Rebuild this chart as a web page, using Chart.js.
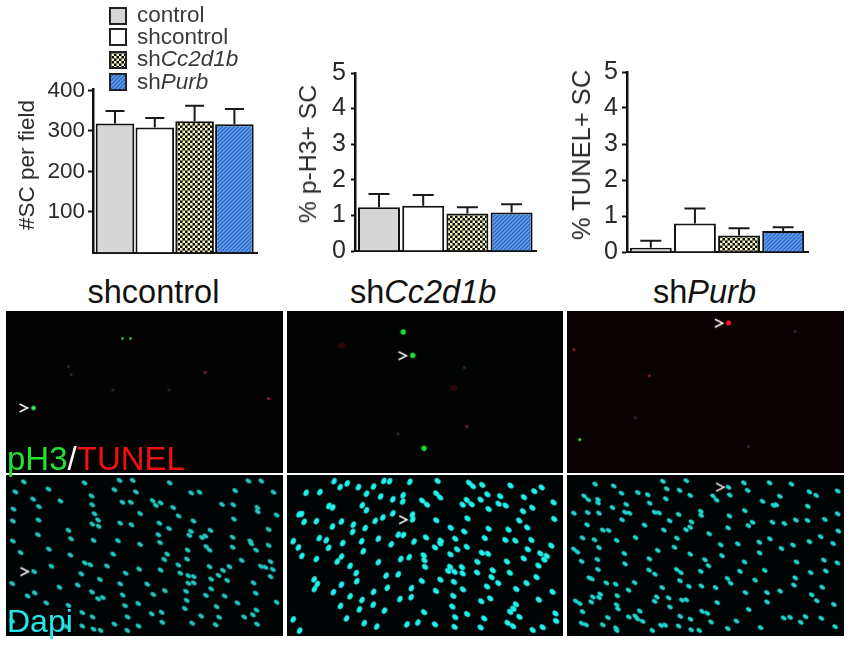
<!DOCTYPE html>
<html>
<head>
<meta charset="utf-8">
<title>Schwann cell counts</title>
<script src="https://cdn.jsdelivr.net/npm/chart.js@4"></script>
<style>
    html, body { margin: 0; padding: 0; background: #fff; }
    body { position: relative; width: 850px; height: 646px; overflow: hidden; font-family: "Liberation Sans", Arial, sans-serif; }
    canvas { position: absolute; display: block; }
    .txt { position: absolute; white-space: nowrap; line-height: 0; z-index: 5; }
</style>
</head>
<body>
<script>
// bar values
const groups = ['control', 'shcontrol', 'shCc2d1b', 'shPurb'];
const scPerField = [318, 308, 324, 316];
const scPerFieldTop = [349, 332, 362, 354];
const ph3Pct = [1.23, 1.27, 1.05, 1.08];
const ph3PctTop = [1.60, 1.57, 1.23, 1.31];
const tunelPct = [0.12, 0.79, 0.46, 0.58];
const tunelPctTop = [0.31, 1.21, 0.66, 0.69];
const scTicks = [100, 200, 300, 400];
const pctTicks = [0, 1, 2, 3, 4, 5];

// spots in the micrographs, in field coordinates
const greenCtrl = [[88, 312]];
const greenCtrlSmall = [[365, 90], [390, 90]];
const redCtrl = [[820, 282]];
const dimCtrl = [[622, 198]];
const greyCtrl = [[197, 180], [335, 255], [205, 205], [510, 255]];
const arrowCtrl = [[57, 312]];

const greenCc2 = [[352, 69], [382, 144], [417, 441]];
const redCc2 = [[550, 371]];
const darkRedCc2 = [[160, 112], [510, 248]];
const greyCc2 = [[336, 395], [542, 183]];
const arrowCc2 = [[350, 145]];

const redPurb = [[493, 40]];
const dimPurb = [[12, 125], [247, 209]];
const greenPurb = [[30, 413]];
const greyPurb = [[700, 67], [203, 343], [555, 435]];
const arrowPurb = [[463, 41]];

const dapiCtrl = [[58, 15], [135, 38], [247, 18], [340, 40], [356, 10], [397, 10], [407, 47], [512, 18], [579, 50], [605, 48], [716, 43], [835, 48], [757, 12], [797, 12],
    [32, 47], [87, 70], [172, 76], [269, 60], [365, 80], [391, 80], [459, 75], [484, 82], [469, 90], [523, 97], [675, 87], [710, 88], [785, 97], [786, 110],
    [26, 102], [105, 94], [271, 88], [278, 117], [420, 116], [540, 124], [712, 134], [845, 121],
    [104, 137], [24, 140], [289, 137], [271, 150], [291, 157], [358, 147], [393, 152], [480, 147], [586, 140], [510, 164], [820, 167],
    [197, 170], [102, 184], [578, 173], [573, 186], [477, 184], [612, 193], [623, 188], [639, 170], [708, 192], [763, 204], [766, 213],
    [24, 204], [205, 197], [275, 202], [351, 203], [482, 209], [420, 215], [820, 218], [708, 224], [626, 222], [636, 233], [781, 233], [568, 233],
    [136, 230], [48, 241], [203, 249], [336, 246], [504, 246], [566, 262], [495, 263], [736, 266], [826, 270],
    [248, 274], [265, 280], [144, 285], [317, 284], [417, 294], [539, 281], [484, 297], [636, 286], [698, 286], [796, 285], [810, 288], [833, 295], [678, 298],
    [90, 302], [237, 309], [375, 307], [545, 307], [664, 314], [570, 315], [587, 318], [826, 318], [295, 327], [641, 326], [691, 330],
    [22, 340], [570, 339], [587, 338], [226, 345], [358, 341], [442, 342], [773, 338], [169, 352], [641, 357],
    [92, 370], [70, 380], [270, 367], [366, 377], [461, 375], [497, 363], [563, 365], [625, 378], [683, 380], [780, 371],
    [289, 389], [304, 385], [128, 402], [565, 394], [414, 404], [373, 411], [723, 402], [845, 400], [658, 414], [559, 420], [197, 410], [782, 425],
    [240, 433], [456, 437], [487, 432], [610, 444], [666, 448], [744, 447], [771, 440], [272, 447], [381, 447],
    [489, 464], [582, 467], [340, 470], [240, 476], [415, 476], [784, 470], [275, 486], [297, 490], [380, 490], [655, 472], [190, 478], [22, 460]];

const dapiCc2 = [[137, 13], [178, 20], [292, 12], [310, 13], [373, 15], [459, 12], [557, 18], [569, 29], [598, 25], [686, 27], [783, 33], [760, 45],
    [50, 50], [93, 48], [156, 32], [213, 32], [260, 30], [238, 53], [282, 62], [320, 71], [352, 58], [351, 78], [411, 75], [426, 88], [455, 52], [467, 65],
    [550, 73], [565, 87], [537, 88], [593, 72], [614, 55], [654, 61], [649, 85], [671, 91], [728, 64], [725, 109], [754, 98], [820, 81],
    [121, 92], [133, 97], [225, 90], [238, 106], [618, 102],
    [28, 119], [36, 118], [320, 116], [289, 129], [265, 140], [381, 120], [382, 135], [455, 138], [552, 132], [713, 139], [822, 134],
    [44, 143], [82, 141], [132, 158], [160, 142], [197, 152], [234, 163], [195, 175], [337, 184], [353, 185], [500, 162], [542, 174], [618, 165], [680, 168], [738, 161],
    [91, 195], [113, 202], [164, 211], [223, 205], [275, 197], [315, 215], [386, 206], [423, 193], [469, 203], [467, 212], [514, 197], [606, 195], [670, 201], [701, 203], [751, 201],
    [10, 205], [26, 225], [120, 226], [451, 225], [520, 231], [550, 223], [740, 231], [813, 219],
    [37, 252], [82, 262], [228, 237], [160, 254], [147, 270], [345, 262], [371, 256], [416, 250], [418, 266], [499, 247], [597, 242], [616, 245], [779, 244], [799, 252], [727, 260], [791, 264],
    [275, 272], [187, 284], [420, 287], [583, 271], [675, 270], [773, 283], [498, 287], [535, 288], [492, 300], [512, 303], [537, 308], [582, 305], [631, 298], [684, 306],
    [206, 307], [299, 315], [337, 311], [627, 320], [767, 320], [75, 327], [85, 342], [208, 333], [468, 328], [410, 332], [510, 335], [736, 339], [648, 339],
    [160, 344], [76, 358], [303, 354], [378, 355], [538, 359], [613, 350], [704, 358], [454, 364], [135, 368], [260, 367], [817, 367],
    [187, 381], [508, 380], [342, 390], [377, 384], [224, 393], [623, 388], [595, 397], [774, 392],
    [259, 408], [157, 412], [505, 414], [703, 407], [695, 421], [216, 423], [294, 427], [685, 431], [417, 432], [551, 438], [714, 447], [826, 436],
    [514, 448], [10, 455], [176, 452], [604, 452], [828, 460], [231, 467], [364, 471], [398, 465], [451, 471], [677, 466], [694, 477], [512, 479], [270, 478], [593, 481], [786, 480], [755, 489], [30, 491]];

const dapiPurb = [[78, 22], [136, 28], [289, 13], [362, 11], [541, 18], [621, 18], [689, 22], [493, 32], [301, 37], [341, 42], [553, 42], [745, 47], [833, 44],
    [44, 60], [57, 72], [87, 71], [87, 82], [160, 51], [211, 49], [242, 56], [298, 69], [374, 58], [445, 60], [456, 73], [497, 57], [653, 61], [766, 58],
    [175, 87], [132, 97], [248, 83], [599, 77], [633, 90], [642, 88], [740, 93],
    [12, 115], [55, 113], [90, 115], [171, 112], [185, 115], [263, 112], [277, 114], [338, 119], [407, 109], [408, 122], [496, 124], [544, 107], [833, 117],
    [162, 136], [310, 139], [378, 143], [568, 144], [630, 144], [667, 148], [703, 137], [739, 138], [793, 135],
    [53, 152], [232, 153], [374, 160], [361, 168], [492, 162], [555, 155],
    [102, 169], [120, 170], [292, 169], [433, 181], [780, 190], [835, 172],
    [39, 194], [76, 200], [145, 202], [204, 193], [333, 195], [622, 197], [589, 208], [745, 206], [819, 212],
    [90, 225], [273, 234], [325, 224], [469, 216], [522, 213], [694, 217], [658, 228],
    [12, 230], [23, 239], [169, 244], [374, 246], [473, 251], [590, 242],
    [85, 263], [36, 269], [247, 261], [420, 264], [171, 277], [431, 283], [543, 271], [705, 271], [790, 265], [832, 274],
    [87, 295], [246, 297], [332, 295], [345, 305], [264, 310], [407, 301], [529, 301], [606, 298], [749, 305], [796, 300],
    [60, 322], [68, 325], [342, 331], [490, 324], [576, 329], [701, 322],
    [113, 338], [142, 342], [201, 337], [287, 353], [370, 349], [409, 348], [453, 353], [500, 339], [697, 345], [785, 352],
    [182, 361], [94, 374], [71, 383], [90, 385], [147, 379], [270, 383], [263, 397], [307, 386], [546, 369], [613, 369], [654, 364], [752, 376],
    [18, 396], [30, 404], [66, 399], [348, 393], [362, 392], [458, 401], [613, 399], [768, 395], [821, 407],
    [145, 408], [149, 421], [311, 415], [39, 430], [217, 428], [411, 429], [427, 435], [556, 423],
    [118, 449], [183, 447], [203, 444], [210, 453], [226, 461], [343, 445], [375, 454], [665, 450], [685, 448], [733, 446], [782, 451],
    [36, 467], [50, 472], [102, 472], [283, 474], [296, 473], [338, 476], [439, 463], [518, 460], [718, 464], [825, 478], [143, 482], [145, 490], [256, 490], [377, 488], [402, 490], [491, 484], [593, 481]];
const arrowDapiCtrl = [[60, 302]];
const arrowDapiCc2 = [[352, 136]];
const arrowDapiPurb = [[467, 32]];

Chart.defaults.animation = false;
Chart.defaults.responsive = false;
Chart.defaults.devicePixelRatio = 1;
Chart.defaults.font.family = '"Liberation Sans", Arial, sans-serif';
Chart.defaults.events = [];

function makeSprite(w, h) {
    const c = document.createElement('canvas');
    c.width = w;
    c.height = h;
    return c;
}

function checkerPattern() {
    const c = makeSprite(5, 5);
    const g = c.getContext('2d');
    g.fillStyle = '#0c0c06';
    g.fillRect(0, 0, 5, 5);
    g.fillStyle = '#f6f4c0';
    g.fillRect(0, 0, 2.5, 2.5);
    g.fillRect(2.5, 2.5, 2.5, 2.5);
    return g.createPattern(c, 'repeat');
}

function stripePattern() {
    const c = makeSprite(4, 4);
    const g = c.getContext('2d');
    g.fillStyle = '#2f6fd0';
    g.fillRect(0, 0, 4, 4);
    g.strokeStyle = '#74a6ec';
    g.lineWidth = 1.2;
    g.beginPath();
    g.moveTo(-1, 1); g.lineTo(1, -1);
    g.moveTo(-1, 5); g.lineTo(5, -1);
    g.moveTo(3, 5); g.lineTo(5, 3);
    g.stroke();
    return g.createPattern(c, 'repeat');
}

const fills = ['#d6d6d6', '#ffffff', checkerPattern(), stripePattern()];

// one blurry spot, used as the point style in the micrographs
function spot(color, rx, ry) {
    const c = makeSprite(Math.ceil(rx * 2 + 6), Math.ceil(ry * 2 + 6));
    const g = c.getContext('2d');
    g.filter = 'blur(0.6px)';
    g.fillStyle = color;
    g.beginPath();
    g.ellipse(c.width / 2, c.height / 2, rx, ry, 0, 0, Math.PI * 2);
    g.fill();
    return c;
}

function chevron(color) {
    const c = makeSprite(12, 12);
    const g = c.getContext('2d');
    g.strokeStyle = color;
    g.lineWidth = 1.4;
    g.beginPath();
    g.moveTo(2, 2); g.lineTo(10, 6); g.lineTo(2, 10);
    g.stroke();
    return c;
}

function addCanvas(left, top, width, height, bg) {
    const c = document.createElement('canvas');
    c.width = width;
    c.height = height;
    c.style.left = left + 'px';
    c.style.top = top + 'px';
    if (bg) c.style.background = bg;
    document.body.appendChild(c);
    return c;
}

function addText(html, x, baseline, size, color) {
    const d = document.createElement('div');
    d.className = 'txt';
    d.innerHTML = html;
    d.style.left = x + 'px';
    d.style.top = (baseline - 0.3465 * size) + 'px';
    d.style.fontSize = size + 'px';
    d.style.color = color;
    document.body.appendChild(d);
}

function addSideLabel(text, cx, cy, size) {
    const d = document.createElement('div');
    d.className = 'txt';
    d.textContent = text;
    d.style.left = cx + 'px';
    d.style.top = cy + 'px';
    d.style.fontSize = size + 'px';
    d.style.color = '#2a2a2a';
    d.style.transform = 'translate(-50%, 0) rotate(-90deg)';
    document.body.appendChild(d);
}

// error bars are only drawn upward, from the bar top to the upper value
const errorBars = {
    id: 'errorBars',
    afterDatasetsDraw(chart, args, opts) {
        const g = chart.ctx;
        const xs = chart.scales.x;
        const ys = chart.scales.y;
        g.save();
        g.strokeStyle = '#1a1a1a';
        g.lineWidth = 2;
        opts.tops.forEach((top, i) => {
            const x = xs.getPixelForValue(i + 1);
            const y0 = ys.getPixelForValue(opts.values[i]);
            const y1 = ys.getPixelForValue(top);
            g.beginPath();
            g.moveTo(x, y0);
            g.lineTo(x, y1);
            g.moveTo(x - opts.cap, y1);
            g.lineTo(x + opts.cap, y1);
            g.stroke();
        });
        g.restore();
    }
};

function barChart(c) {
    const cv = addCanvas(c.left, c.top, c.width, c.height);
    new Chart(cv, {
        type: 'bar',
        data: {
            datasets: [{
                data: c.values.map((v, i) => ({ x: i + 1, y: v })),
                backgroundColor: fills,
                borderColor: '#111',
                borderWidth: 2,
                barPercentage: c.barPct,
                categoryPercentage: 1
            }]
        },
        options: {
            layout: { padding: { right: c.left + c.width - c.plotRight } },
            plugins: { legend: { display: false }, tooltip: { enabled: false }, errorBars: { tops: c.tops, values: c.values, cap: c.cap } },
            scales: {
                x: {
                    type: 'linear',
                    offset: false,
                    min: c.xMin,
                    max: c.xMax,
                    ticks: { display: false },
                    grid: { display: false },
                    border: { color: '#111', width: 2 },
                    afterFit(s) { s.height = 0; }
                },
                y: {
                    min: 0,
                    max: c.yMax,
                    afterBuildTicks(s) { s.ticks = c.ticks.map(v => ({ value: v })); },
                    afterFit(s) { s.width = c.plotLeft - c.left; },
                    ticks: { color: '#2a2a2a', font: { size: c.tickSize }, padding: c.tickPad, autoSkip: false },
                    grid: { drawOnChartArea: false, tickLength: c.tickLen, tickColor: '#111', tickWidth: 2 },
                    border: { color: '#111', width: 2.5 }
                }
            }
        },
        plugins: [errorBars]
    });
}

// canvas top and height leave room for the half tick label the layout keeps above and below the plot
barChart({ left: 30, top: 73, width: 240, height: 196, plotLeft: 93, plotRight: 257,
    xMin: 0.447, xMax: 4.568, barPct: 0.97, yMax: 402, values: scPerField, tops: scPerFieldTop, ticks: scTicks,
    cap: 9.5, tickSize: 22.5, tickPad: 3, tickLen: 5 });
barChart({ left: 315, top: 53, width: 235, height: 218, plotLeft: 355, plotRight: 536,
    xMin: 0.457, xMax: 4.552, barPct: 0.95, yMax: 5, values: ph3Pct, tops: ph3PctTop, ticks: pctTicks,
    cap: 10.5, tickSize: 25, tickPad: 5, tickLen: 4 });
barChart({ left: 590, top: 53, width: 230, height: 218, plotLeft: 627, plotRight: 808,
    xMin: 0.46, xMax: 4.563, barPct: 0.95, yMax: 5, values: tunelPct, tops: tunelPctTop, ticks: pctTicks,
    cap: 10.5, tickSize: 25, tickPad: 4, tickLen: 5 });

addSideLabel('#SC per field', 27, 165, 22.5);
addSideLabel('% p-H3+ SC', 308, 154, 24.8);
addSideLabel('% TUNEL+ SC', 581, 155, 25.5);

// legend, built from the group names
const legendPlain = ['control', 'shcontrol', 'sh', 'sh'];
const legendItalic = ['', '', 'Cc2d1b', 'Purb'];
const legendRows = [15.5, 37, 59.5, 82];
groups.forEach((name, i) => {
    const cv = addCanvas(109, legendRows[i] - 9, 18, 18);
    const g = cv.getContext('2d');
    g.fillStyle = fills[i];
    g.fillRect(1, 1, 16, 16);
    g.strokeStyle = '#222';
    g.lineWidth = 2;
    g.strokeRect(1, 1, 16, 16);
    addText(legendPlain[i] + '<i>' + legendItalic[i] + '</i>', 137, legendRows[i] + 7.5, 22.5, '#3a3a3a');
});

addText('shcontrol', 87.5, 303, 32.5, '#111');
addText('sh<i>Cc2d1b</i>', 350, 303, 32.5, '#111');
addText('sh<i>Purb</i>', 653, 303, 32.5, '#111');

// micrograph panels, each one a scatter chart with hidden axes
function micrograph(p) {
    const cv = addCanvas(p.left, p.top, p.width, p.height, p.bg);
    new Chart(cv, {
        type: 'scatter',
        data: {
            datasets: p.sets.map(s => ({
                data: s.points.map(q => ({ x: q[0], y: q[1] })),
                pointStyle: s.sprite,
                pointRadius: 3,
                rotation: s.turn || 0,
                clip: false
            }))
        },
        options: {
            layout: { padding: 0 },
            plugins: { legend: { display: false }, tooltip: { enabled: false } },
            scales: {
                x: { display: false, min: (p.left - p.cropX) * 3, max: (p.left + p.width - p.cropX) * 3 },
                y: { display: false, reverse: true, min: (p.top - p.cropY) * 3, max: (p.top + p.height - p.cropY) * 3 }
            }
        }
    });
}

const white = chevron('#ffffff');
const brightGreen = spot('#28f03a', 2.4, 2.2);
const smallGreen = spot('#38e048', 1.2, 1.2);
const strongRed = spot('#ff1424', 2.5, 2.5);
const smallRed = spot('#f01030', 1.4, 1.2);
const dimRed = spot('#8a2030', 1.5, 1.5);
const darkRed = spot('#2a0608', 4, 3);
const dimGrey = spot('#2c2c2c', 1.5, 1.5);

micrograph({ left: 6, top: 311, width: 277, height: 162, cropX: 0, cropY: 305, bg: '#040303', sets: [
    { points: greenCtrl, sprite: brightGreen }, { points: greenCtrlSmall, sprite: smallGreen },
    { points: redCtrl, sprite: smallRed }, { points: dimCtrl, sprite: dimRed },
    { points: greyCtrl, sprite: dimGrey }, { points: arrowCtrl, sprite: white }] });
micrograph({ left: 287, top: 311, width: 276, height: 162, cropX: 285, cropY: 305, bg: '#010402', sets: [
    { points: greenCc2, sprite: spot('#1ce030', 2.7, 2.7) }, { points: redCc2, sprite: dimRed },
    { points: darkRedCc2, sprite: darkRed }, { points: greyCc2, sprite: dimGrey }, { points: arrowCc2, sprite: white }] });
micrograph({ left: 567, top: 311, width: 277, height: 162, cropX: 565, cropY: 305, bg: '#0a0102', sets: [
    { points: redPurb, sprite: strongRed }, { points: dimPurb, sprite: dimRed },
    { points: greenPurb, sprite: spot('#38f048', 1.6, 1.6) }, { points: greyPurb, sprite: dimGrey }, { points: arrowPurb, sprite: white }] });

micrograph({ left: 6, top: 475, width: 277, height: 161, cropX: 0, cropY: 472, bg: '#010405', sets: [
    { points: dapiCtrl, sprite: spot('#1fc8c0', 3.1, 2.1), turn: 35 }, { points: arrowDapiCtrl, sprite: white }] });
micrograph({ left: 287, top: 475, width: 276, height: 161, cropX: 285, cropY: 472, bg: '#000405', sets: [
    { points: dapiCc2.filter(q => q[0] < 400), sprite: spot('#22f2ec', 3.4, 2.4), turn: -60 },
    { points: dapiCc2.filter(q => q[0] >= 400), sprite: spot('#22f2ec', 3.4, 2.4), turn: 40 },
    { points: arrowDapiCc2, sprite: white }] });
micrograph({ left: 567, top: 475, width: 277, height: 161, cropX: 565, cropY: 472, bg: '#000405', sets: [
    { points: dapiPurb, sprite: spot('#20d8d0', 3, 2.1), turn: 35 }, { points: arrowDapiPurb, sprite: chevron('#f4dcdc') }] });

addText('<span style="color:#22e030">pH3</span><span style="color:#fff">/</span><span style="color:#f01010">TUNEL</span>', 7, 470.5, 33, '#fff');
addText('Dapi', 7, 632.5, 32, '#22e8ec');
</script>
</body>
</html>
